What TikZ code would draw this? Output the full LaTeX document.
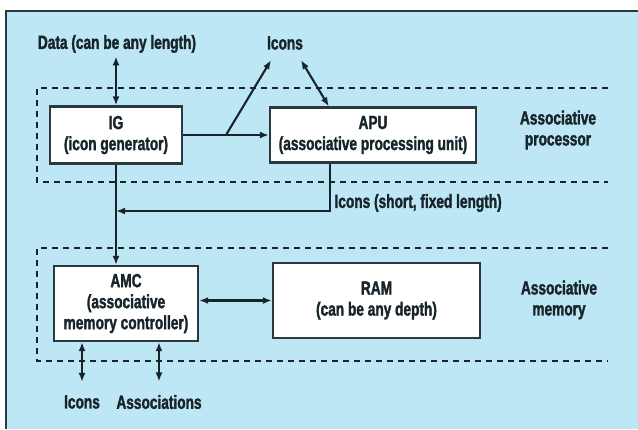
\documentclass[tikz,border=0pt]{standalone}
\usepackage{fontspec}
\setmainfont{Liberation Sans}[FakeStretch=0.72,BoldFeatures={FakeBold=1.6}]
\usetikzlibrary{calc,arrows.meta}
\definecolor{panel}{HTML}{BDE7F4}
\definecolor{ink}{HTML}{172429}
\definecolor{rulec}{HTML}{2A393F}

\begin{document}
\begin{tikzpicture}[x=1pt,y=-1pt,>={Latex[length=9pt,width=7pt]},
  every node/.style={font=\fontsize{19}{21}\selectfont\bfseries,text=ink,align=center},
  unit/.style={draw=rulec,fill=white,line width=2.4pt,inner sep=0pt},
  link/.style={draw=ink,line width=2.1pt,->},
  both/.style={draw=ink,line width=2.1pt,<->},
  zone/.style={draw=ink,line width=2pt,dash pattern=on 6pt off 5pt}]
\useasboundingbox (0,0) rectangle (638,429);
\fill[white] (0,0) rectangle (638,429);\fill[panel] (6,11) rectangle (638,429);
\draw[rulec,line width=2.2pt] (6,429)--(6,11)--(638,11);
% dashed groups
\draw[zone] (608,88)--(37,88)--(37,182)--(608,182);
\draw[zone] (608,248)--(37,248)--(37,361)--(608,361);
% units
\node[unit,minimum width=132pt,minimum height=57pt] (ig) at (116,135) {IG\\(icon generator)};
\node[unit,minimum width=206pt,minimum height=55pt] (apu) at (373,135) {APU\\(associative processing unit)};
\node[unit,minimum width=144pt,minimum height=75pt] (amc) at (126,303.5) {AMC\\(associative\\memory controller)};
\node[unit,minimum width=207pt,minimum height=75pt] (ram) at (376.5,300.5) {RAM\\(can be any depth)};
% labels
\node (data) at (117,44) {Data (can be any length)};
\node (icons) at (285,43) {Icons};
\node[anchor=west] (short) at (331,203) {Icons (short, fixed length)};
\node (proc) at (558,130) {Associative\\processor};
\node (mem) at (559,300) {Associative\\memory};
\node (iconsb) at (82,402) {Icons};
\node (assoc) at (159,402) {Associations};
% connectors
\draw[both] (data.south -| ig) -- (ig.north);
\draw[link] (ig.east) -- (apu.west);
\coordinate (fork) at ($(ig.east)!0.5!(apu.west)$);
\draw[link] (fork) -- ($(icons.south)+(-14,7)$);
\draw[both] ($(apu.north west)+(60,0)$) -- ($(icons.south)+(16,7)$);
\coordinate (tap) at ($(apu.south west)+(61,0)$);
\coordinate (join) at (ig.south |- 0,211);
\draw[link] (tap) |- (join);
\draw[link] (ig.south) -- (ig.south |- amc.north);
\draw[both] (amc.east |- ram.west) -- (ram.west);
\draw[both] ($(iconsb.north)+(0,-10)$) -- (iconsb.north |- amc.south);
\draw[both] ($(assoc.north)+(0,-10)$) -- (assoc.north |- amc.south);
\end{tikzpicture}
\end{document}
